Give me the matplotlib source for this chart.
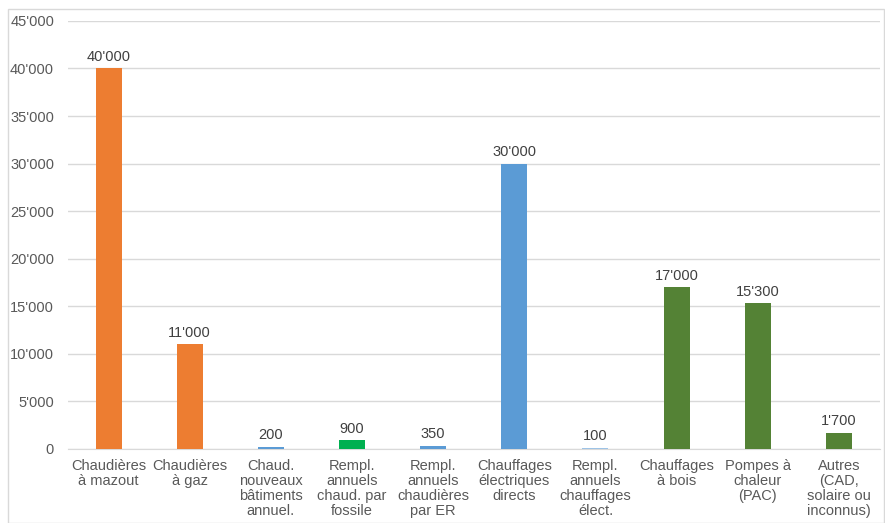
import matplotlib.pyplot as plt
from matplotlib.ticker import FuncFormatter

categories = ["Chaudières\nà mazout", "Chaudières\nà gaz", "Chaud.\nnouveaux\nbâtiments\nannuel.",
              "Rempl.\nannuels\nchaud. par\nfossile", "Rempl.\nannuels\nchaudières\npar ER",
              "Chauffages\nélectriques\ndirects", "Rempl.\nannuels\nchauffages\nélect.",
              "Chauffages\nà bois", "Pompes à\nchaleur\n(PAC)", "Autres\n(CAD,\nsolaire ou\ninconnus)"]
values = [40000, 11000, 200, 900, 350, 30000, 100, 17000, 15300, 1700]
colors = ["#ED7D31", "#ED7D31", "#5B9BD5", "#00B050", "#5B9BD5",
          "#5B9BD5", "#9DC3E6", "#548235", "#548235", "#548235"]

plt.rcParams['font.family'] = ['Liberation Sans', 'DejaVu Sans']


def swiss(v):
    return "{:,.0f}".format(v).replace(",", "'")


fig = plt.figure(figsize=(8.85, 5.23), dpi=100)
ax = fig.add_axes([0.0768, 0.1415, 0.917, 0.8185])
x = range(len(values))
ax.bar(x, values, width=0.32, color=colors, zorder=3)
for i, v in enumerate(values):
    ax.text(i, v + 500, swiss(v), ha='center', va='bottom', fontsize=10.5, color='#404040')

ax.set_xlim(-0.5, len(values) - 0.5)
ax.set_ylim(0, 45000)
ax.set_yticks(range(0, 45001, 5000))
ax.yaxis.set_major_formatter(FuncFormatter(lambda v, p: swiss(v)))
ax.set_xticks(list(x))
ax.set_xticklabels(categories, fontsize=10.5, color='#595959', linespacing=1.1)
ax.tick_params(axis='y', labelsize=10.5, labelcolor='#595959', length=0, pad=10)
ax.tick_params(axis='x', length=0, pad=7)
ax.grid(axis='y', color='#D9D9D9', linewidth=1, zorder=0)
for s in ['top', 'right', 'left']:
    ax.spines[s].set_visible(False)
ax.spines['bottom'].set_color('#D9D9D9')

fig.patches.append(plt.Rectangle((8 / 885, 0), 1 - 9 / 885, 1 - 9 / 523, transform=fig.transFigure,
                                 fill=False, edgecolor='#D9D9D9', linewidth=1))
fig.savefig("out.png", dpi=100)
